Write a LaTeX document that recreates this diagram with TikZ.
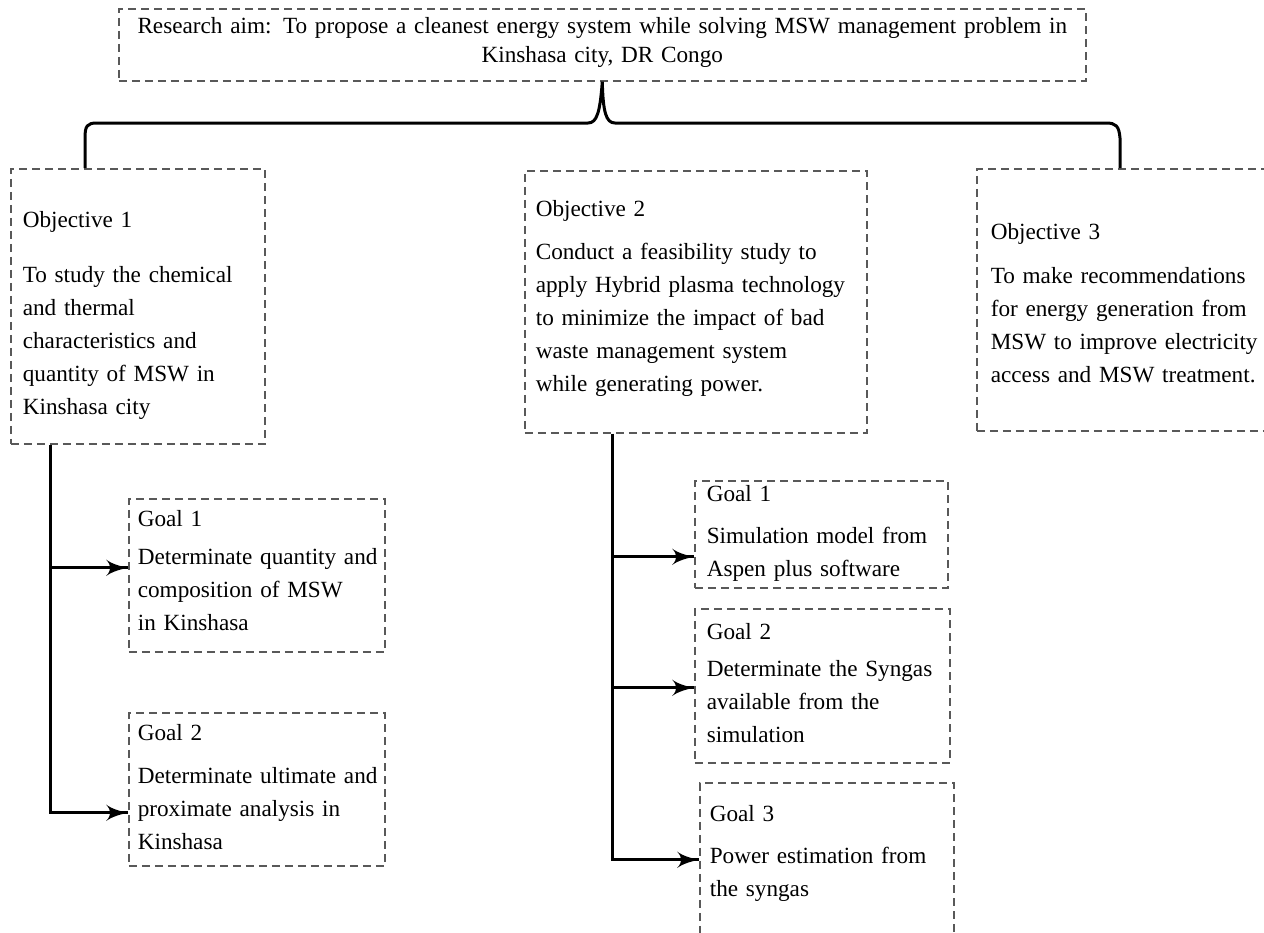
\documentclass[tikz,border=0pt]{standalone}
\usepackage{fontspec}
\setmainfont{Liberation Serif}
\usepackage{tikz}
\usetikzlibrary{arrows}
\usetikzlibrary{decorations.markings}
\tikzset{arr/.style = {decoration={markings,
                                   mark=at position 1 with {\arrow[scale=1.5]{latex'}}},
                       postaction={decorate}}}
\tikzset{box/.style = {draw=black!65, dash pattern=on 4pt off 2.5pt, line width=0.8pt,
                       anchor=north west, inner sep=0pt, align=left,
                       font=\fontsize{11.6}{16.5}\selectfont}}
\tikzset{lpad/.style = {execute at begin node={\leftskip=#1}}}
\tikzset{link/.style = {line width=1.5pt}}

\begin{document}
\begin{tikzpicture}[x=0.5pt, y=-0.5pt]
    \useasboundingbox (0,0) rectangle (1264,932);
    \node [box, align=center, text width=483.5pt, text height=12.5pt, text depth=23.5pt] (aim) at (118,8)
      {Research aim: To propose a cleanest energy system while solving MSW management problem in\\[-2pt]
       Kinshasa city, DR Congo};
    \node [box, lpad=6pt, text width=127pt, text height=29.5pt, text depth=108pt] (obj1) at (10,168)
      {Objective 1\\[11pt] To study the chemical\\ and thermal\\ characteristics and\\ quantity of MSW in\\ Kinshasa city};
    \node [box, lpad=5.5pt, text width=171pt, text height=22.75pt, text depth=108.25pt] (obj2) at (524,170)
      {Objective 2\\[5pt] Conduct a feasibility study to\\ apply Hybrid plasma technology\\ to minimize the impact of bad\\
       waste management system\\ while generating power.};
    \node [box, lpad=7pt, text width=157pt, text height=35.25pt, text depth=95.75pt] (obj3) at (976,168)
      {Objective 3\\[5.5pt] To make recommendations\\ for energy generation from\\ MSW to improve electricity\\ access and MSW treatment.};
    \node [box, lpad=4.5pt, text width=128pt, text height=13.75pt, text depth=62.75pt] (gl1) at (128,498)
      {Goal 1\\[2.5pt] Determinate quantity and\\ composition of MSW\\ in Kinshasa};
    \node [box, lpad=4.5pt, text width=128pt, text height=13.75pt, text depth=62.75pt] (gl2) at (128,712)
      {Goal 2\\[5pt] Determinate ultimate and\\ proximate analysis in\\ Kinshasa};
    \node [box, lpad=6pt, text width=126.5pt, text height=10.25pt, text depth=43.25pt] (gm1) at (694,480)
      {Goal 1\\[4.5pt] Simulation model from\\ Aspen plus software};
    \node [box, lpad=6pt, text width=127.5pt, text height=15.25pt, text depth=61.75pt] (gm2) at (694,608)
      {Goal 2\\[2pt] Determinate the Syngas\\ available from the\\ simulation};
    \node [box, lpad=5pt, text width=127pt, text height=19.25pt, text depth=64.75pt] (gm3) at (699,782)
      {Goal 3\\[4.5pt] Power estimation from\\ the syngas};

    \draw [link] ([xshift=37.5pt]obj1.north west) -- (85,138)
      .. controls (85,126) and (87,123) .. (97,123) -- (588,123)
      .. controls (597,123) and (600,112) .. (aim.south)
      .. controls (603,112) and (606,123) .. (615,123) -- (1106,123)
      .. controls (1116,123) and (1119,126) .. (1120,138) -- ([xshift=72pt]obj3.north west);

    \coordinate (tL) at ([xshift=20pt]obj1.south west);
    \coordinate (tM) at ([xshift=44pt]obj2.south west);
    \coordinate (inL1) at ([yshift=3.75pt]gl1.west);
    \coordinate (inL2) at ([yshift=-11.75pt]gl2.west);
    \coordinate (inM1) at ([yshift=-11.25pt]gm1.west);
    \coordinate (inM2) at ([yshift=-1pt]gm2.west);
    \coordinate (inM3) at ([yshift=3.5pt]gm3.west);
    \draw [link, arr] (tL) |- (inL2);
    \draw [link, arr] (tL |- inL1) -- (inL1);
    \draw [link, arr] (tM) |- (inM3);
    \draw [link, arr] (tM |- inM1) -- (inM1);
    \draw [link, arr] (tM |- inM2) -- (inM2);
\end{tikzpicture}
\end{document}
